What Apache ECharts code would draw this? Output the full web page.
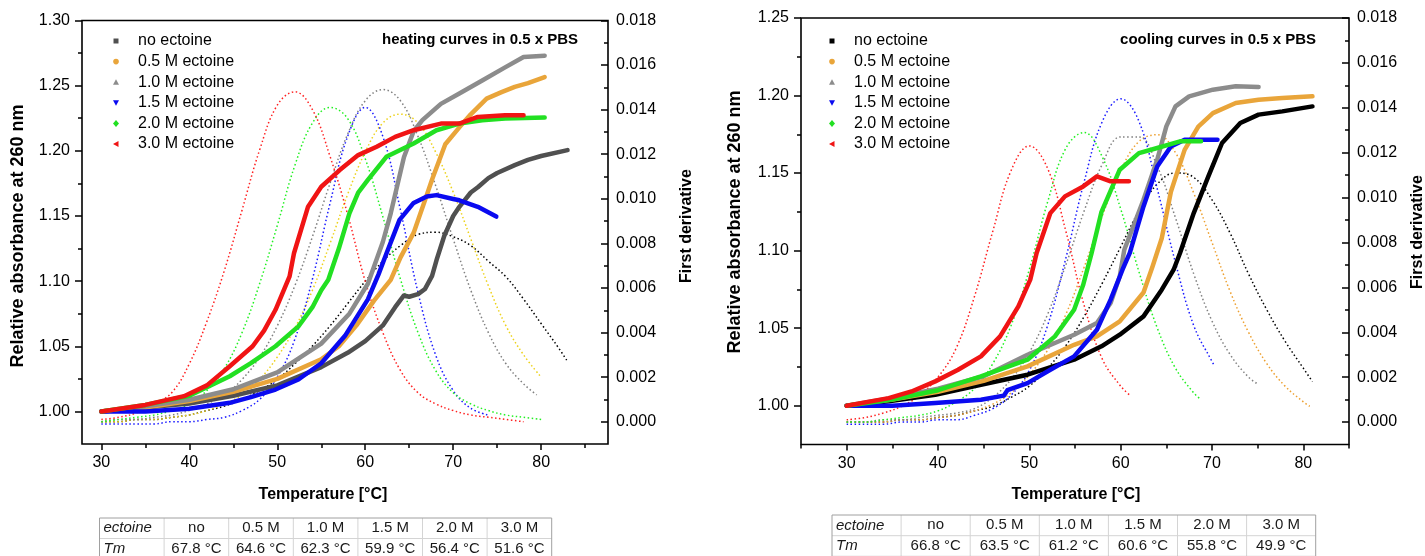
<!DOCTYPE html>
<html><head><meta charset="utf-8">
<script src="https://cdn.jsdelivr.net/npm/echarts@6/dist/echarts.min.js"></script>
<style>html,body{margin:0;padding:0;background:#fff}#chart{width:1425px;height:556px}</style>
</head><body><div id="chart"></div>
<script>
// ---------- labels ----------
const seriesNames = ['no ectoine', '0.5 M ectoine', '1.0 M ectoine', '1.5 M ectoine', '2.0 M ectoine', '3.0 M ectoine'];
const ectoineLevels = ['no', '0.5 M', '1.0 M', '1.5 M', '2.0 M', '3.0 M'];
const heatTm = [67.8, 64.6, 62.3, 59.9, 56.4, 51.6];
const coolTm = [66.8, 63.5, 61.2, 60.6, 55.8, 49.9];

// ---------- ticks ----------
const tempLabels = [30, 40, 50, 60, 70, 80];
const heatTempMinor = [35, 45, 55, 65, 75, 85];
const coolTempMinor = [25, 35, 45, 55, 65, 75, 85];
const heatAbsLabels = [1.00, 1.05, 1.10, 1.15, 1.20, 1.25, 1.30];
const heatAbsMinor = [1.025, 1.075, 1.125, 1.175, 1.225, 1.275];
const coolAbsLabels = [1.00, 1.05, 1.10, 1.15, 1.20, 1.25];
const coolAbsMinor = [1.025, 1.075, 1.125, 1.175, 1.225];
const derivLabels = [0, 0.002, 0.004, 0.006, 0.008, 0.010, 0.012, 0.014, 0.016, 0.018];
const derivMinor = [0.001, 0.003, 0.005, 0.007, 0.009, 0.011, 0.013, 0.015, 0.017];

// ---------- heating: relative absorbance [T, A] ----------
const heatAbsNone = [[30,1.000],[35,1.003],[40,1.006],[45,1.012],[50,1.020],[55,1.034],[58,1.045],[60,1.054],[62,1.066],[63.4,1.080],[64.4,1.089],[65,1.088],[66,1.090],[66.8,1.094],[67.6,1.104],[68.1,1.116],[69,1.135],[70,1.150],[70.7,1.157],[72,1.168],[72.8,1.172],[74,1.179],[75,1.183],[77,1.189],[78.5,1.193],[80,1.196],[83,1.2005]];
const heatAbs05 = [[30,1.000],[35,1.003],[40,1.008],[45,1.015],[50,1.025],[55,1.040],[57,1.050],[59,1.066],[61,1.085],[62.9,1.101],[64,1.118],[65.5,1.137],[67,1.166],[67.6,1.178],[69.1,1.205],[70.7,1.218],[72,1.228],[73.8,1.240],[75.5,1.245],[77,1.249],[78.5,1.252],[80.4,1.2566]];
const heatAbs10 = [[30,1.000],[35,1.004],[40,1.009],[45,1.017],[50,1.030],[55,1.052],[58.2,1.075],[60.3,1.098],[62,1.130],[62.9,1.152],[64.4,1.195],[65.5,1.215],[66.5,1.2235],[68.6,1.236],[70.7,1.244],[73.3,1.254],[75.9,1.264],[78,1.272],[80.4,1.273]];
const heatAbs15 = [[30,1.000],[35,1.000],[40,1.002],[44.6,1.0066],[47,1.011],[49.8,1.0168],[52.4,1.0245],[55,1.037],[57.7,1.058],[60.3,1.086],[61.5,1.105],[62.4,1.121],[63.9,1.147],[65.5,1.160],[67,1.165],[68.1,1.166],[70,1.163],[70.7,1.162],[72.8,1.157],[74.9,1.1495]];
const heatAbs20 = [[30,1.000],[35,1.005],[40,1.012],[44.6,1.027],[47,1.037],[49.8,1.050],[52.4,1.0653],[54,1.080],[55,1.093],[55.8,1.101],[57,1.125],[58.2,1.152],[59.2,1.168],[60.3,1.1776],[62.4,1.1954],[65.5,1.2056],[68.1,1.2158],[70.7,1.2209],[73.3,1.2235],[75.9,1.2247],[80.4,1.2255]];
const heatAbs30 = [[30,1.000],[35,1.005],[39.4,1.0117],[42,1.020],[44.6,1.0347],[47.2,1.050],[48.5,1.062],[49.8,1.078],[51.4,1.1036],[51.9,1.1214],[53.5,1.1571],[55,1.1724],[57.1,1.1852],[59.2,1.1967],[61.3,1.2031],[63.4,1.2107],[65.5,1.2158],[68.6,1.2209],[70.7,1.2209],[72.8,1.226],[75.9,1.2273],[78,1.2273]];

// ---------- heating: first derivative [T, dA/dT] ----------
const heatDerNone = [[30,0.0000],[32,0.0000],[34,0.0001],[36,0.0001],[38,0.0002],[40,0.0003],[42,0.0005],[44,0.0007],[46,0.0010],[48,0.0014],[50,0.0019],[52,0.0026],[54,0.0034],[56,0.0043],[58,0.0053],[60,0.0063],[62,0.0072],[64,0.0079],[66,0.0084],[68,0.0085],[70,0.0083],[72,0.0079],[74,0.0072],[76,0.0065],[78,0.0055],[80,0.0044],[82,0.0033],[83,0.0027]];
const heatDer05 = [[30,0.0000],[32,0.0000],[34,0.0001],[36,0.0001],[38,0.0002],[40,0.0003],[42,0.0005],[44,0.0008],[46,0.0012],[48,0.0019],[50,0.0029],[52,0.0042],[54,0.0059],[56,0.0080],[58,0.0102],[60,0.0121],[62,0.0134],[64,0.0138],[66,0.0134],[68,0.0121],[70,0.0103],[72,0.0082],[74,0.0061],[76,0.0043],[78,0.0030],[80,0.0020]];
const heatDer10 = [[30,0.0000],[32,0.0001],[34,0.0001],[36,0.0002],[38,0.0003],[40,0.0005],[42,0.0008],[44,0.0012],[46,0.0019],[48,0.0029],[50,0.0043],[52,0.0061],[54,0.0083],[56,0.0107],[58,0.0129],[60,0.0144],[62,0.0149],[64,0.0144],[66,0.0128],[68,0.0106],[70,0.0082],[72,0.0059],[74,0.0040],[76,0.0026],[78,0.0017],[79.5,0.0012]];
const heatDer15 = [[30,-0.0001],[32,-0.0001],[34,-0.0001],[36,-0.0001],[38,0.0000],[40,0.0000],[42,0.0001],[44,0.0002],[46,0.0005],[48,0.0010],[50,0.0020],[52,0.0037],[54,0.0064],[56,0.0098],[58,0.0128],[60,0.0141],[62,0.0128],[64,0.0095],[66,0.0058],[68,0.0030],[70,0.0014],[72,0.0006],[74,0.0003]];
const heatDer20 = [[30,0.0000],[32,0.0001],[34,0.0002],[36,0.0003],[38,0.0005],[40,0.0008],[42,0.0014],[44,0.0024],[46,0.0040],[48,0.0062],[50,0.0088],[52,0.0115],[54,0.0134],[56,0.0141],[58,0.0136],[60,0.0118],[62,0.0092],[64,0.0064],[66,0.0040],[68,0.0023],[70,0.0013],[72,0.0008],[74,0.0005],[76,0.0003],[78,0.0002],[80,0.0001]];
const heatDer30 = [[30,0.0001],[32,0.0002],[34,0.0004],[36,0.0008],[38,0.0013],[40,0.0026],[42,0.0045],[44,0.0068],[46,0.0095],[48,0.0122],[50,0.0142],[52,0.0148],[54,0.0140],[56,0.0119],[58,0.0093],[60,0.0063],[62,0.0040],[64,0.0023],[66,0.0013],[68,0.0008],[70,0.0005],[72,0.0003],[74,0.0002],[76,0.0001],[78,0.0000]];

// ---------- cooling: relative absorbance [T, A] ----------
const coolAbsNone = [[30,1.000],[34.6,1.0028],[39.7,1.0071],[44.7,1.0135],[49.8,1.020],[54.9,1.0297],[57.9,1.0383],[59.9,1.0458],[62.5,1.0576],[64.5,1.0748],[65.8,1.0877],[66.5,1.0985],[68,1.1242],[69.6,1.1479],[71.1,1.1694],[73.1,1.1823],[75.1,1.1877],[77.7,1.1898],[81,1.193]];
const coolAbs05 = [[30,1.000],[35,1.004],[40,1.009],[45,1.016],[49.8,1.0254],[54.9,1.0393],[57.4,1.0447],[59.9,1.0544],[62.5,1.073],[63.5,1.090],[64.5,1.108],[65.5,1.138],[67,1.165],[68.5,1.180],[70.1,1.1887],[72.6,1.1952],[75.1,1.1973],[77.7,1.1984],[81,1.1995]];
const coolAbs10 = [[30,1.000],[35,1.005],[40,1.011],[45,1.019],[49.8,1.0329],[54.9,1.0458],[57.4,1.0533],[58.9,1.0662],[59.9,1.0834],[60.4,1.1006],[62.5,1.1328],[64,1.1586],[65,1.1801],[66,1.193],[67.5,1.1995],[70.1,1.2038],[72.6,1.206],[75.1,1.2055]];
const coolAbs15 = [[30,1.000],[35,1.000],[39.7,1.0017],[44.7,1.0039],[47.2,1.0065],[47.6,1.010],[49.8,1.0146],[52.3,1.0232],[54.9,1.0318],[57.4,1.049],[58.9,1.0684],[60.2,1.0877],[61,1.0985],[62.5,1.1285],[64,1.1543],[65.5,1.1672],[67,1.1715],[70.6,1.1715]];
const coolAbs20 = [[30,1.000],[35,1.004],[40,1.010],[44.7,1.0189],[49.8,1.0297],[52.8,1.0447],[54.9,1.0619],[55.9,1.078],[56.8,1.098],[57.9,1.125],[59.9,1.1522],[62,1.1629],[64,1.1662],[66.5,1.1705],[68.8,1.1705]];
const coolAbs30 = [[30,1.000],[34.6,1.0049],[37.1,1.0092],[39.7,1.0157],[42.2,1.0232],[44.7,1.0318],[46.8,1.0447],[48.8,1.0641],[50.1,1.0813],[50.8,1.0985],[52.3,1.1242],[53.9,1.135],[55.9,1.1414],[57.4,1.1479],[58.9,1.1447],[60.9,1.1447]];

// ---------- cooling: first derivative [T, dA/dT] ----------
const coolDerNone = [[30,0.0000],[32,0.0000],[34,0.0000],[36,0.0001],[38,0.0001],[40,0.0002],[42,0.0003],[44,0.0005],[46,0.0007],[48,0.0011],[50,0.0016],[52,0.0024],[54,0.0034],[56,0.0047],[58,0.0062],[60,0.0078],[62,0.0094],[64,0.0106],[66,0.0111],[68,0.0109],[70,0.0099],[72,0.0084],[74,0.0066],[76,0.0050],[78,0.0036],[80,0.0024],[81,0.0018]];
const coolDer05 = [[30,0.0000],[32,0.0000],[34,0.0000],[36,0.0001],[38,0.0001],[40,0.0002],[42,0.0003],[44,0.0005],[46,0.0008],[48,0.0013],[50,0.0021],[52,0.0032],[54,0.0048],[56,0.0069],[58,0.0092],[60,0.0112],[62,0.0125],[64,0.0128],[66,0.0120],[68,0.0102],[70,0.0080],[72,0.0058],[74,0.0040],[76,0.0026],[78,0.0016],[80,0.0009],[80.7,0.0007]];
const coolDer10 = [[30,0.0000],[32,0.0000],[34,0.0001],[36,0.0001],[38,0.0002],[40,0.0003],[42,0.0004],[44,0.0006],[46,0.0011],[48,0.0019],[50,0.0031],[52,0.0048],[54,0.0070],[56,0.0094],[58,0.0115],[60,0.0127],[62,0.0127],[64,0.0114],[66,0.0091],[68,0.0066],[70,0.0045],[72,0.0030],[74,0.0020],[75,0.0017]];
const coolDer15 = [[30,-0.0001],[32,-0.0001],[34,-0.0001],[36,0.0000],[38,0.0000],[40,0.0001],[42,0.0001],[44,0.0003],[46,0.0006],[48,0.0012],[50,0.0023],[52,0.0043],[54,0.0073],[56,0.0107],[58,0.0134],[60,0.0144],[62,0.0134],[64,0.0104],[66,0.0071],[68,0.0043],[70,0.0027],[70.3,0.0025]];
const coolDer20 = [[30,0.0000],[32,0.0000],[34,0.0001],[36,0.0002],[38,0.0003],[40,0.0005],[42,0.0009],[44,0.0015],[46,0.0026],[48,0.0043],[50,0.0068],[52,0.0098],[54,0.0122],[56,0.0129],[58,0.0118],[60,0.0095],[62,0.0067],[64,0.0042],[66,0.0024],[68,0.0013],[68.8,0.0010]];
const coolDer30 = [[30,0.0001],[32,0.0002],[34,0.0004],[36,0.0007],[38,0.0012],[40,0.0020],[42,0.0033],[44,0.0056],[46,0.0085],[48,0.0112],[50,0.0123],[52,0.0113],[54,0.0085],[56,0.0052],[58,0.0028],[60,0.0016],[61,0.0012]];

// ---------- styling ----------
const FONT = '"Liberation Sans", Arial, Helvetica, sans-serif';
const heatAbsColors = ['#505050', '#E9A53A', '#8C8C8C', '#0A0AF0', '#22E022', '#F01414'];
const coolAbsColors = ['#000000', '#E9A53A', '#8C8C8C', '#0A0AF0', '#22E022', '#F01414'];
const heatDerColors = ['#000000', '#EDD21A', '#808080', '#1A1AFF', '#22F022', '#FF2020'];
const coolDerColors = ['#000000', '#EDA030', '#808080', '#1A1AFF', '#22F022', '#FF2020'];
const symbolKinds = ['square', 'circle', 'up', 'down', 'diamond', 'left'];

const heatAbs = [heatAbsNone, heatAbs05, heatAbs10, heatAbs15, heatAbs20, heatAbs30];
const heatDer = [heatDerNone, heatDer05, heatDer10, heatDer15, heatDer20, heatDer30];
const coolAbs = [coolAbsNone, coolAbs05, coolAbs10, coolAbs15, coolAbs20, coolAbs30];
const coolDer = [coolDerNone, coolDer05, coolDer10, coolDer15, coolDer20, coolDer30];

const tickStyle = { color: '#000', width: 1.5 };
const labelStyle = { fontSize: 16, color: '#000', fontFamily: FONT };
const noLine = { show: false, onZero: false };

function xPair(grid, min, max, minor) {
  return [
    { type: 'value', gridIndex: grid, min: min, max: max, position: 'bottom',
      axisLine: noLine, splitLine: { show: false },
      axisTick: { show: true, customValues: tempLabels, length: 6, lineStyle: tickStyle },
      axisLabel: Object.assign({ customValues: tempLabels, margin: 11 }, labelStyle) },
    { type: 'value', gridIndex: grid, min: min, max: max, position: 'bottom',
      axisLine: noLine, splitLine: { show: false },
      axisTick: { show: true, customValues: minor, length: 4, lineStyle: tickStyle },
      axisLabel: { show: false } }
  ];
}
function yLeftPair(grid, min, max, labels, minor) {
  return [
    { type: 'value', gridIndex: grid, min: min, max: max, position: 'left',
      axisLine: noLine, splitLine: { show: false },
      axisTick: { show: true, customValues: labels, length: 7, lineStyle: tickStyle },
      axisLabel: Object.assign({ customValues: labels, margin: 12, formatter: v => v.toFixed(2) }, labelStyle) },
    { type: 'value', gridIndex: grid, min: min, max: max, position: 'left',
      axisLine: noLine, splitLine: { show: false },
      axisTick: { show: true, customValues: minor, length: 4, lineStyle: tickStyle },
      axisLabel: { show: false } }
  ];
}
function yRightPair(grid) {
  return [
    { type: 'value', gridIndex: grid, min: -0.001, max: 0.018, position: 'right',
      axisLine: noLine, splitLine: { show: false },
      axisTick: { show: true, inside: true, customValues: derivLabels, length: 7, lineStyle: tickStyle },
      axisLabel: Object.assign({ customValues: derivLabels, margin: 8, formatter: v => v.toFixed(3) }, labelStyle) },
    { type: 'value', gridIndex: grid, min: -0.001, max: 0.018, position: 'right',
      axisLine: noLine, splitLine: { show: false },
      axisTick: { show: true, inside: true, customValues: derivMinor, length: 4, lineStyle: tickStyle },
      axisLabel: { show: false } }
  ];
}

const xAxes = [].concat(xPair(0, 27.8, 87.6, heatTempMinor), xPair(1, 25, 85, coolTempMinor));
const yAxes = [].concat(
  yLeftPair(0, 0.975, 1.30, heatAbsLabels, heatAbsMinor), yRightPair(0),
  yLeftPair(1, 0.975, 1.25, coolAbsLabels, coolAbsMinor), yRightPair(1)
);

const series = [];
function addPanel(absSets, derSets, absColors, derColors, xIdx, yAbs, yDer) {
  derSets.forEach((d, i) => series.push({
    name: seriesNames[i] + ' derivative', type: 'line', xAxisIndex: xIdx, yAxisIndex: yDer,
    data: d, symbol: 'none', smooth: 0.4, z: 2, silent: true,
    lineStyle: { color: derColors[i], width: 1.5, type: [1.5, 2.5] }
  }));
  absSets.forEach((d, i) => series.push({
    name: seriesNames[i], type: 'line', xAxisIndex: xIdx, yAxisIndex: yAbs,
    data: d, symbol: 'none', smooth: false, z: 3, silent: true,
    lineStyle: { color: absColors[i], width: 4.5, cap: 'round', join: 'round' }
  }));
}
addPanel(heatAbs, heatDer, heatAbsColors, heatDerColors, 0, 0, 2);
addPanel(coolAbs, coolDer, coolAbsColors, coolDerColors, 2, 4, 6);

// ---------- text, legends and Tm tables ----------
const graphic = [];
function text(x, y, str, opt) {
  graphic.push({ type: 'text', x: x, y: y, silent: true,
    style: Object.assign({ text: str, fontFamily: FONT, fontSize: 16, fill: '#000',
      align: 'center', verticalAlign: 'middle' }, opt || {}) });
}
function vtext(x, y, str, size) {
  graphic.push({ type: 'text', x: x, y: y, rotation: Math.PI / 2, silent: true,
    style: { text: str, fontFamily: FONT, fontSize: size, fontWeight: 'bold', fill: '#000',
      align: 'center', verticalAlign: 'middle' } });
}
function marker(kind, cx, cy, color) {
  const s = { fill: color };
  if (kind === 'square') graphic.push({ type: 'rect', silent: true, shape: { x: cx - 2.5, y: cy - 2.5, width: 5, height: 5 }, style: s });
  else if (kind === 'circle') graphic.push({ type: 'circle', silent: true, shape: { cx: cx, cy: cy, r: 2.8 }, style: s });
  else {
    const pts = {
      up: [[cx, cy - 3], [cx + 3, cy + 2.5], [cx - 3, cy + 2.5]],
      down: [[cx - 3, cy - 2.5], [cx + 3, cy - 2.5], [cx, cy + 3]],
      diamond: [[cx, cy - 3.5], [cx + 3, cy], [cx, cy + 3.5], [cx - 3, cy]],
      left: [[cx - 3, cy], [cx + 2.5, cy - 3], [cx + 2.5, cy + 3]]
    }[kind];
    graphic.push({ type: 'polygon', silent: true, shape: { points: pts }, style: s });
  }
}
function legend(x, y0, colors) {
  seriesNames.forEach((n, i) => {
    const y = y0 + i * 20.6;
    marker(symbolKinds[i], x, y, colors[i]);
    text(x + 22, y, n, { align: 'left', fontSize: 16 });
  });
}
function table(x0, y0, colW, rowH, tm) {
  const cols = 7;
  const w = colW * cols;
  for (let c = 1; c < cols; c++) {
    graphic.push({ type: 'line', silent: true, shape: { x1: x0 + c * colW, y1: y0, x2: x0 + c * colW, y2: y0 + 2 * rowH },
      style: { stroke: '#d4d4d4', lineWidth: 1 } });
  }
  graphic.push({ type: 'line', silent: true, shape: { x1: x0, y1: y0 + rowH, x2: x0 + w, y2: y0 + rowH },
    style: { stroke: '#d4d4d4', lineWidth: 1 } });
  graphic.push({ type: 'rect', silent: true, shape: { x: x0, y: y0, width: w, height: 2 * rowH },
    style: { fill: 'none', stroke: '#a0a0a0', lineWidth: 1 } });
  text(x0 + 4, y0 + rowH / 2, 'ectoine', { align: 'left', fontSize: 15, fontStyle: 'italic', fill: '#1a1a1a' });
  text(x0 + 4, y0 + rowH * 1.5, 'Tm', { align: 'left', fontSize: 15, fontStyle: 'italic', fill: '#1a1a1a' });
  ectoineLevels.forEach((lv, i) => {
    const cx = x0 + (i + 1.5) * colW;
    text(cx, y0 + rowH / 2, lv, { fontSize: 15, fill: '#1a1a1a' });
    text(cx, y0 + rowH * 1.5, tm[i].toFixed(1) + ' °C', { fontSize: 15, fill: '#1a1a1a' });
  });
}

// heating panel
text(578, 40, 'heating curves in 0.5 x PBS', { align: 'right', fontSize: 15, fontWeight: 'bold' });
legend(116, 41, heatAbsColors);
vtext(18, 236, 'Relative absorbance at 260 nm', 18);
vtext(687, 226, 'First derivative', 16);
text(323, 495, 'Temperature [°C]', { fontWeight: 'bold', fontSize: 16 });
table(99.5, 518, 64.6, 20.5, heatTm);

// cooling panel
text(1316, 40, 'cooling curves in 0.5 x PBS', { align: 'right', fontSize: 15, fontWeight: 'bold' });
legend(832, 41, coolAbsColors);
vtext(735, 222, 'Relative absorbance at 260 nm', 18);
vtext(1418, 232, 'First derivative', 16);
text(1076, 495, 'Temperature [°C]', { fontWeight: 'bold', fontSize: 16 });
table(832, 515, 69.1, 20.7, coolTm);

const chart = echarts.init(document.getElementById('chart'), null, { renderer: 'canvas' });
chart.setOption({
  animation: false,
  backgroundColor: '#fff',
  grid: [
    { left: 82, top: 20.5, width: 526, height: 423.5, show: true, borderColor: '#000', borderWidth: 1.6, containLabel: false },
    { left: 801, top: 18, width: 548, height: 426.5, show: true, borderColor: '#000', borderWidth: 1.6, containLabel: false }
  ],
  xAxis: xAxes,
  yAxis: yAxes,
  series: series,
  graphic: graphic
});
</script>
</body></html>
